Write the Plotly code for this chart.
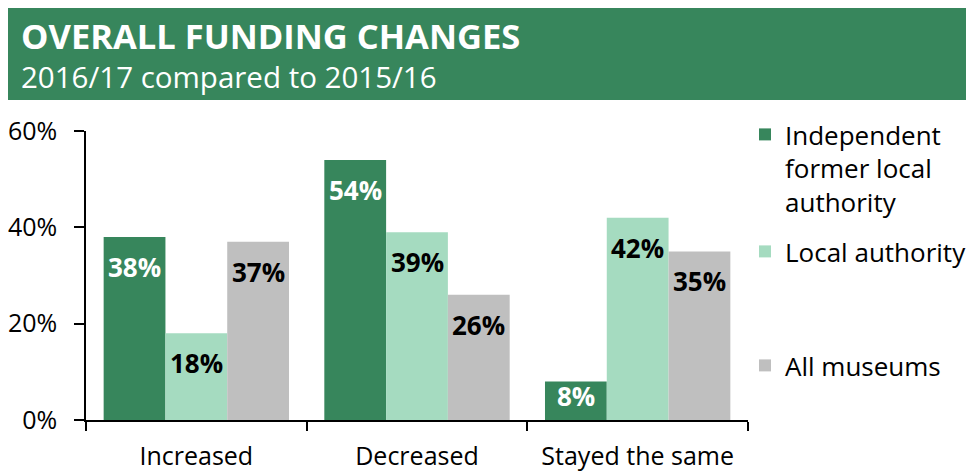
import plotly.graph_objects as go

categories = ["Increased", "Decreased", "Stayed the same"]
independent = [38, 54, 8]
local_authority = [18, 39, 42]
all_museums = [37, 26, 35]

series_names = ["Independent<br>former local<br>authority", "Local authority", "All museums"]
colors = ["#37865C", "#A5DBC0", "#BFBFBF"]
label_colors = ["white", "black", "black"]

FONT = "Open Sans"

# the page puts the figure 8px in from the window edge
FIG_W, FIG_H = 966, 465
L, R, T, B = 78, 740, 123, 412
W, H = R - L, B - T
Y_MAX = 60
BARGAP = 0.16


def px_x(p):
    return (p - L) / W


def px_y(p):
    return (B - p) / H


fig = go.Figure()

series = [independent, local_authority, all_museums]
legends = ["legend", "legend2", "legend3"]
bar_w = W / len(categories) * (1 - BARGAP) / len(series)

for i, (name, vals) in enumerate(zip(series_names, series)):
    fig.add_trace(go.Bar(
        x=categories,
        y=vals,
        name=name,
        marker=dict(color=colors[i], line=dict(width=0)),
        hoverinfo="x+y",
        legend=legends[i],
    ))
    # value labels just under the top of each bar
    for cat, v in zip(categories, vals):
        bar_px = v / Y_MAX * H
        fig.add_annotation(
            x=cat, y=v, xref="x", yref="y",
            xanchor="center", yanchor="top", showarrow=False,
            xshift=(i - 1) * bar_w,
            yshift=-10 if bar_px > 60 else 5,
            text=f"<b>{v}%</b>",
            font=dict(family=FONT, size=26, color=label_colors[i]),
        )

fig.add_shape(type="rect", xref="paper", yref="paper",
              x0=px_x(-4), x1=px_x(FIG_W + 2), y0=px_y(92), y1=px_y(-4),
              fillcolor="#37865C", line=dict(width=0), layer="below")

fig.add_annotation(xref="paper", yref="paper", x=px_x(11), y=px_y(27),
                   xanchor="left", yanchor="middle", showarrow=False,
                   text="<b>OVERALL FUNDING CHANGES</b>",
                   font=dict(family=FONT, size=34.5, color="white"))
fig.add_annotation(xref="paper", yref="paper", x=px_x(11), y=px_y(68.5),
                   xanchor="left", yanchor="middle", showarrow=False,
                   text="2016/17 compared to 2015/16",
                   font=dict(family=FONT, size=29.5, color="white"))

legend_style = dict(xref="paper", yref="paper", xanchor="left", yanchor="top",
                    font=dict(family=FONT, size=26, color="black"),
                    bgcolor="rgba(0,0,0,0)", itemwidth=30, valign="top")

fig.update_layout(
    width=FIG_W, height=FIG_H,
    margin=dict(l=L, r=FIG_W - R, t=T, b=FIG_H - B, autoexpand=False),
    paper_bgcolor="white",
    plot_bgcolor="white",
    barmode="group",
    bargap=BARGAP,
    bargroupgap=0,
    font=dict(family=FONT, size=26, color="black"),
    showlegend=True,
    legend=dict(x=px_x(737), y=px_y(103), **legend_style),
    legend2=dict(x=px_x(737), y=px_y(220), **legend_style),
    legend3=dict(x=px_x(737), y=px_y(334), **legend_style),
    xaxis=dict(
        showline=True, linecolor="black", linewidth=1.5,
        ticks="outside", tickson="boundaries", ticklen=9, tickcolor="black", tickwidth=1.5,
        tickfont=dict(family=FONT, size=25, color="black"),
        ticklabelstandoff=13, automargin=False,
        showgrid=False,
    ),
    yaxis=dict(
        range=[0, Y_MAX], tickvals=[0, 20, 40, 60], ticktext=["0%", "20%", "40%", "60%"],
        showline=True, linecolor="black", linewidth=1.5,
        ticks="outside", ticklen=10, tickcolor="black", tickwidth=1.5,
        tickfont=dict(family=FONT, size=25, color="black"),
        ticklabelstandoff=12, automargin=False,
        showgrid=False, zeroline=False,
    ),
)

fig.write_html("out.html")
